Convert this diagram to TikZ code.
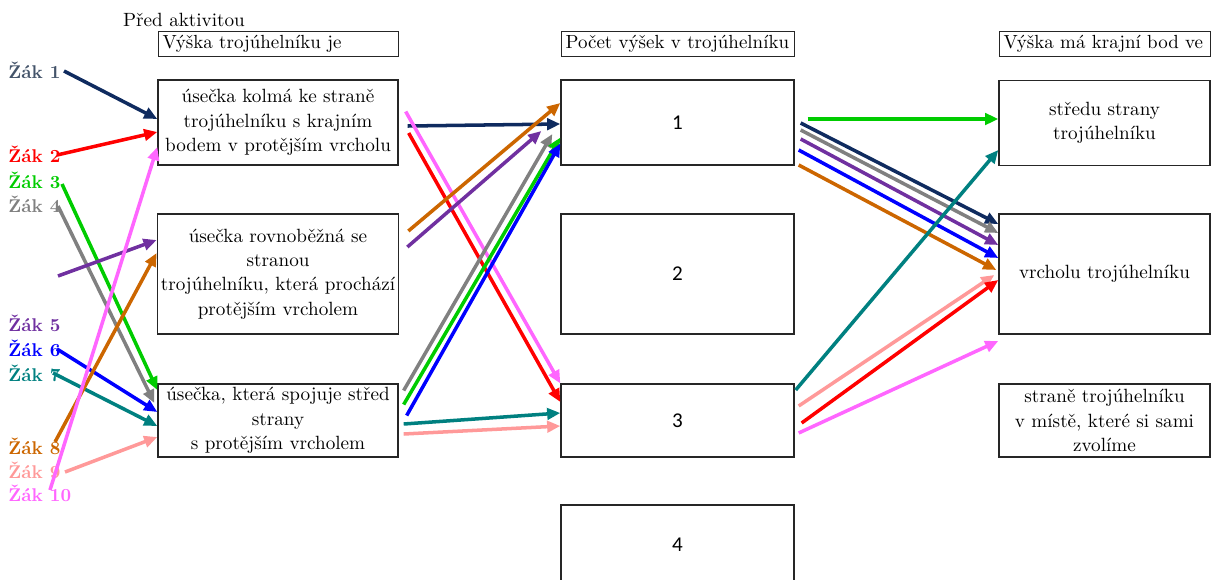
\documentclass[tikz,border=0pt]{standalone}
\usepackage{fontspec}
\newfontfamily\cislo{Carlito}
\usepackage{xcolor}
\usepackage{tikz}
\usetikzlibrary{arrows.meta,calc,positioning}
\definecolor{zak1}{HTML}{0F2B5F}
\definecolor{popis1}{HTML}{44546A}
\definecolor{zak2}{HTML}{FF0000}
\definecolor{zak3}{HTML}{00CC00}
\definecolor{zak4}{HTML}{808080}
\definecolor{zak5}{HTML}{7030A0}
\definecolor{zak6}{HTML}{0000FF}
\definecolor{zak7}{HTML}{008080}
\definecolor{zak8}{HTML}{CC6600}
\definecolor{zak9}{HTML}{FF9999}
\definecolor{zak10}{HTML}{FF66FF}
\tikzset{
  ramecek/.style={draw=black!85,line width=0.8pt,align=center,inner xsep=2pt,inner ysep=1pt,font=\fontsize{10.9}{13.9}\selectfont},
  hlavicka/.style={draw=black!85,line width=0.8pt,align=left,anchor=north west,inner xsep=0.08cm,inner ysep=0pt,minimum height=0.5cm,font=\fontsize{10.8}{13.9}\selectfont},
  cislo/.style={font=\cislo\fontsize{12}{14}\selectfont},
  sipka/.style={-{Triangle[length=7.5pt,width=6.5pt]},line width=2pt},
  zak/.style={anchor=west,inner sep=0pt,font=\bfseries\fontsize{10.5}{12}\selectfont}
}

\begin{document}
\begin{tikzpicture}[x=0.02cm,y=-0.02cm]
\useasboundingbox (0,0) rectangle (1215,579);
\node[font=\fontsize{10.9}{13.9}\selectfont] (titul) at (184,20) {Před aktivitou};
\node[hlavicka,text width=4.64cm] (h1) at (158,31) {Výška trojúhelníku je};
\node[hlavicka,text width=4.5cm] (h2) at (561,31) {\mbox{Počet výšek v trojúhelníku}};
\node[hlavicka,text width=4.06cm] (h3) at (999,31) {Výška má krajní bod ve};
% levy sloupec
\node[ramecek,minimum width=4.8cm,minimum height=1.7cm] (a1) at (278,122.5) {úsečka kolmá ke straně\\trojúhelníku s krajním\\bodem v protějším vrcholu};
\node[ramecek,minimum width=4.8cm,minimum height=2.4cm] (a2) at (278,274) {úsečka rovnoběžná se\\stranou\\trojúhelníku, která prochází\\protějším vrcholem};
\node[ramecek,minimum width=4.8cm,minimum height=1.46cm] (a3) at (278,420.5) {úsečka, která spojuje střed\\strany\\s protějším vrcholem};
% prostredni sloupec
\node[ramecek,cislo,minimum width=4.66cm,minimum height=1.7cm] (b1) at (677.5,122.5) {1};
\node[ramecek,cislo,minimum width=4.66cm,minimum height=2.4cm] (b2) at (677.5,274) {2};
\node[ramecek,cislo,minimum width=4.66cm,minimum height=1.46cm] (b3) at (677.5,420.5) {3};
\node[ramecek,cislo,minimum width=4.66cm,minimum height=1.9cm] (b4) at (677.5,552.5) {\raisebox{1.2cm}{}};
\node[cislo] (n4) at (677.5,545) {4};
% pravy sloupec
\node[ramecek,minimum width=4.22cm,minimum height=1.7cm] (c1) at (1104.5,123) {středu strany\\trojúhelníku};
\node[ramecek,minimum width=4.22cm,minimum height=2.4cm] (c2) at (1104.5,274) {vrcholu trojúhelníku};
\node[ramecek,minimum width=4.22cm,minimum height=1.46cm] (c3) at (1104.5,420.5) {straně trojúhelníku\\v místě, které si sami\\zvolíme};
% zaci
\foreach \i/\y/\c in {1/70/popis1,2/154/zak2,3/180/zak3,4/204/zak4,5/323/zak5,6/348/zak6,7/373/zak7,8/446/zak8,9/470/zak9,10/493/zak10}
  \node[zak,text=\c] (z\i) at (8,\y) {Žák \i};
\foreach \i/\p in {1/{64,71},2/{57,155},3/{62,184},4/{58,206},5/{58,276},6/{57,349},7/{53,373},8/{55,442},9/{65,472},10/{50,490}}
  \coordinate (t\i) at (\p);
% pred aktivitou
\foreach \i/\k/\d in {1/a1/{0,-3.5},2/a1/{0,9.5},3/a3/{0,-30.5},4/a3/{-3,-17.5},5/a2/{0,-34},6/a3/{0,-8.5},7/a3/{0,5.5},8/a2/{0,-21},9/a3/{0,16.5},10/a1/{0,24.5}}
  \draw[sipka,color=zak\i] (t\i) -- ($(\k.west)+(\d)$);
% pocet vysek
\foreach \c/\a/\p/\b/\q in {zak1/a1/{9,3.5}/b1/{0,1.5},zak2/a1/{10,10.5}/b3/{0,-18.5},zak10/a1/{7,-11}/b3/{0,-37},zak8/a2/{9,-43}/b1/{0,-19.5},zak5/a2/{8,-27}/b1/{-19,8.5},zak4/a3/{5,-30}/b1/{-8,11.5},zak3/a3/{5,-16}/b1/{0,15},zak6/a3/{8,-5}/b1/{0,21},zak7/a3/{5,3.5}/b3/{0,-7.5},zak9/a3/{5,13.5}/b3/{0,5.5}}
  \draw[sipka,color=\c] ($(\a.east)+(\p)$) -- ($(\b.west)+(\q)$);
% krajni bod
\foreach \c/\a/\p/\b/\q in {zak3/b1/{13,-3.5}/c1/{0,-4},zak1/b1/{6,0.5}/c2/{0,-50},zak4/b1/{6,7.5}/c2/{0,-41},zak5/b1/{6,16.5}/c2/{0,-29},zak6/b1/{4,27.5}/c2/{0,-16},zak8/b1/{4,42.5}/c2/{-2,-4},zak7/b3/{1,-30.5}/c1/{0,27},zak9/b3/{4,-14.5}/c2/{-4,1},zak2/b3/{7,2.5}/c2/{0,6},zak10/b3/{4,12.5}/c2/{0,67}}
  \draw[sipka,color=\c] ($(\a.east)+(\p)$) -- ($(\b.west)+(\q)$);
\end{tikzpicture}
\end{document}
